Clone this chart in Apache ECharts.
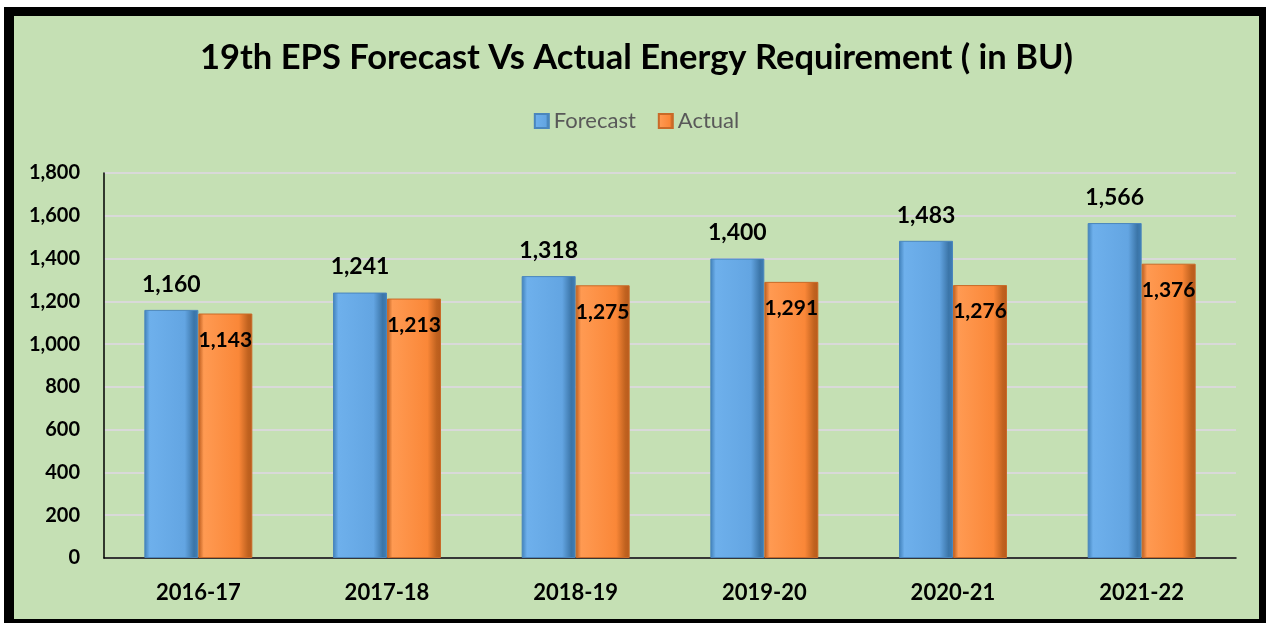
<!DOCTYPE html>
<html>
<head>
<meta charset="utf-8">
<script src="https://cdn.jsdelivr.net/npm/echarts@6/dist/echarts.min.js"></script>
<style>
  html, body { margin: 0; padding: 0; background: #fff; }
  #frame {
    position: absolute; left: 4px; top: 7px; width: 1262px; height: 616px;
    box-sizing: border-box; background: #000;
    border-left: 10px solid #000; border-top: 9px solid #000;
    border-right: 7px solid #000; border-bottom: 4px solid #000;
  }
  #chart { width: 1245px; height: 603px; }
</style>
</head>
<body>
<div id="frame"><div id="chart"></div></div>
<script>
var years = ['2016-17', '2017-18', '2018-19', '2019-20', '2020-21', '2021-22'];
var forecast = [1160, 1241, 1318, 1400, 1483, 1566];
var actual = [1143, 1213, 1275, 1291, 1276, 1376];

var chart = echarts.init(document.getElementById('chart'));
var font = 'Lato, "Open Sans", sans-serif';

function commas(v) {
    return Number(v).toLocaleString('en-US');
}

// bevel-ish look with a horizontal gradient
function bevel(edge, light, main, dark) {
    return new echarts.graphic.LinearGradient(0, 0, 1, 0, [
        { offset: 0, color: edge },
        { offset: 0.1, color: light },
        { offset: 0.75, color: main },
        { offset: 0.92, color: dark },
        { offset: 1, color: edge }
    ]);
}

var options = {
    backgroundColor: '#c5e0b4',
    textStyle: { fontFamily: font },
    title: {
        text: '19th EPS Forecast Vs Actual Energy Requirement ( in BU)',
        left: 'center',
        top: 19,
        textStyle: { fontSize: 34.5, fontWeight: 'bold', color: '#000', fontFamily: font }
    },
    legend: {
        top: 89,
        left: 'center',
        itemWidth: 14,
        itemHeight: 14,
        itemGap: 22,
        icon: 'rect',
        textStyle: { fontSize: 22, color: '#595959', fontFamily: font }
    },
    grid: { left: 90, right: 23, top: 157, bottom: 61 },
    xAxis: {
        type: 'category',
        data: years,
        axisLine: { lineStyle: { color: '#000', width: 1.5 } },
        axisTick: { show: false },
        axisLabel: { fontSize: 22, fontWeight: 'bold', color: '#000', margin: 24 }
    },
    yAxis: {
        type: 'value',
        min: 0,
        max: 1800,
        interval: 200,
        axisLine: { show: true, lineStyle: { color: '#000', width: 1.5 } },
        axisTick: { show: false },
        splitLine: { lineStyle: { color: '#d9d9d9', width: 2 } },
        axisLabel: {
            fontSize: 20, fontWeight: 'bold', color: '#000', margin: 24,
            formatter: commas
        }
    },
    series: [{
        name: 'Forecast',
        type: 'bar',
        data: forecast,
        barWidth: 54,
        barGap: '0%',
        itemStyle: {
            color: bevel('#3f7fb8', '#6eb0ec', '#63a5e2', '#3b75a8'),
            borderColor: '#4a86bd',
            borderWidth: 1
        },
        label: {
            show: true,
            position: 'top',
            distance: 14,
            fontSize: 23,
            fontWeight: 'bold',
            color: '#000',
            formatter: function (p) { return commas(p.value); }
        }
    }, {
        name: 'Actual',
        type: 'bar',
        data: actual,
        barWidth: 54,
        itemStyle: {
            color: bevel('#b85a1c', '#ff9a52', '#fa8738', '#c0621f'),
            borderColor: '#c96a28',
            borderWidth: 1
        },
        label: {
            show: true,
            position: 'insideTop',
            distance: 16,
            fontSize: 21,
            fontWeight: 'bold',
            color: '#000',
            formatter: function (p) { return commas(p.value); }
        }
    }],
    color: ['#5b9bd5', '#ed7d31']
};

chart.setOption(options);

window.addEventListener('resize', function () {
    chart.resize();
});
</script>
</body>
</html>
